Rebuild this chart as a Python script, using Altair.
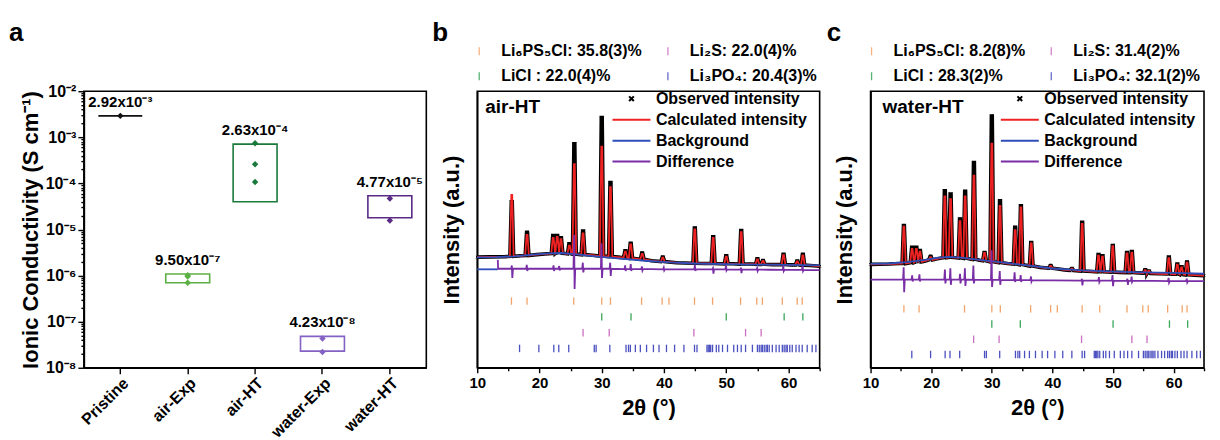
import altair as alt
import pandas as pd

FONT = "Liberation Sans"

# ---------------- panel a : ionic conductivity ----------------
GROUPS = ["Pristine", "air-Exp", "air-HT", "water-Exp", "water-HT"]
BOX_LOW = [2.92e-3, 7.0e-7, 4.0e-5, 2.3e-8, 1.8e-5]
BOX_HIGH = [2.92e-3, 1.08e-6, 7.1e-4, 4.8e-8, 5.4e-5]
MEAN_TEXT = ["2.92x10⁻³", "9.50x10⁻⁷", "2.63x10⁻⁴", "4.23x10⁻⁸", "4.77x10⁻⁵"]
PT_GROUP = ["Pristine", "air-Exp", "air-Exp", "air-Exp", "air-HT", "air-HT", "air-HT",
            "water-Exp", "water-Exp", "water-HT", "water-HT"]
PT_VALUE = [2.92e-3, 1.02e-6, 9.6e-7, 7.0e-7, 7.4e-4, 2.6e-4, 1.07e-4,
            4.3e-8, 2.2e-8, 4.7e-5, 1.56e-5]
GROUP_COLORS = ["#111111", "#5cb043", "#1a7a3c", "#8462c4", "#5a2a84"]

# ---------------- panels b / c : Rietveld refinement ----------------
SERIES = ["Observed intensity", "Calculated intensity", "Background", "Difference"]
SERIES_COLORS = ["#000000", "#ee2222", "#2f4fb8", "#7a2ea6"]
SERIES_SHAPES = ["M-0.25,-0.25L0.25,0.25M-0.25,0.25L0.25,-0.25", "M-2,0L2,0", "M-2,0L2,0", "M-2,0L2,0"]

PHASES = ["Li6PS5Cl", "LiCl", "Li2S", "Li3PO4"]          # row order of the tick rows
PHASE_COLORS = ["#f4a46a", "#3aa65a", "#cc6fbf", "#4b50c0"]
B_PHASE_LABELS = ["Li₆PS₅Cl: 35.8(3)%", "LiCl : 22.0(4)%", "Li₂S: 22.0(4)%", "Li₃PO₄: 20.4(3)%"]
C_PHASE_LABELS = ["Li₆PS₅Cl: 8.2(8)%", "LiCl : 28.3(2)%", "Li₂S: 31.4(2)%", "Li₃PO₄: 32.1(2)%"]

POS_LI6PS5CL = [15.5, 18.0, 25.5, 30.0, 31.4, 36.4, 39.7, 40.8, 44.9, 47.8, 52.3, 54.9, 55.8,
                59.0, 61.4, 62.2]
POS_LICL = [30.0, 34.7, 50.0, 59.3, 62.3]
POS_LI2S = [27.0, 31.2, 44.8, 53.1, 55.6]
POS_LI3PO4 = [16.8, 19.9, 22.3, 23.1, 24.7, 28.8, 29.1, 31.3, 33.9, 34.3, 34.6, 35.4, 36.2,
              37.2, 38.3, 39.2, 40.4, 41.7, 43.2, 44.9, 45.3, 46.9, 47.1, 47.3, 47.5, 47.8,
              48.4, 48.8, 49.4, 50.2, 51.2, 51.8, 52.4, 53.1, 54.2, 55.0, 55.3, 55.6, 55.8,
              56.1, 56.4, 56.6, 56.9, 57.4, 58.0, 58.5, 59.0, 59.3, 59.6, 59.8, 60.2, 60.6,
              61.2, 61.7, 62.2, 63.0, 63.8, 64.4]
PHASE_POS = [POS_LI6PS5CL, POS_LICL, POS_LI2S, POS_LI3PO4]

# air-HT (b)
B_PK_POS = [15.55, 18.0, 22.2, 22.85, 23.45, 24.8, 25.6, 27.0, 30.0, 31.4, 33.8, 34.65, 36.5,
            39.8, 44.95, 47.9, 50.0, 52.4, 55.0, 55.9, 59.2, 61.4, 62.3]
B_PK_BASE = [40.3, 40.6, 41.3, 41.4, 41.4, 41.2, 41.1, 40.9, 40.4, 40.2, 39.8, 39.6, 39.2,
             38.4, 37.8, 37.7, 37.6, 37.5, 37.4, 37.4, 37.3, 37.2, 37.1]
B_PK_OBS = [60.0, 49.0, 47.8, 47.8, 47.0, 44.8, 81.0, 49.4, 90.5, 67.0, 42.3, 45.0, 41.5,
            40.0, 50.5, 47.4, 40.5, 49.6, 39.4, 38.8, 41.0, 38.6, 41.0]
B_PK_CALC = [62.5, 48.0, 47.0, 47.3, 46.5, 44.2, 73.6, 48.6, 80.0, 65.3, 42.0, 44.6, 41.2,
             39.8, 50.0, 47.0, 40.2, 49.0, 39.2, 38.6, 40.7, 38.5, 40.6]
B_BASE_X = [10, 12, 14.5, 17, 19.5, 21.3, 24.1, 26.3, 28.5, 32.6, 38, 42, 46.5, 51, 54, 57.5,
            60.5, 63.5, 65]
B_BASE_Y = [40.0, 40.1, 40.2, 40.5, 40.9, 41.2, 41.3, 41.0, 40.7, 40.0, 38.7, 38.0, 37.7,
            37.6, 37.5, 37.3, 37.2, 37.0, 36.7]
B_BG_X = [10, 13, 16, 19, 21.5, 23.5, 26, 29, 33, 37, 41, 45, 50, 55, 60, 65]
B_BG_Y = [39.9, 40.0, 40.3, 40.9, 41.4, 41.5, 41.0, 40.3, 39.5, 38.7, 38.1, 37.7, 37.5,
          37.3, 37.2, 37.0]
B_BGL_X = [10.0, 13.3]
B_BGL_Y = [35.6, 35.6]
B_D_POS = [15.6, 18.0, 22.3, 23.2, 25.6, 27.0, 30.0, 31.4, 33.8, 34.7, 36.5, 40.0, 45.0,
           47.9, 50.0, 52.4, 55.0, 59.2, 62.3]
B_D_BASE = [35.8, 35.8, 35.8, 35.8, 35.8, 35.8, 35.8, 35.8, 35.7, 35.7, 35.7, 35.6, 35.6,
            35.6, 35.6, 35.5, 35.5, 35.4, 35.4]
B_D_UP = [37.0, 37.2, 37.0, 36.8, 48.0, 38.0, 45.0, 38.0, 37.0, 37.5, 36.6, 36.2, 37.2,
          36.0, 37.0, 36.2, 36.0, 36.8, 36.8]
B_D_DOWN = [32.5, 35.0, 35.0, 35.2, 28.5, 34.5, 32.5, 33.2, 35.0, 35.0, 35.2, 35.2, 35.0,
            34.0, 35.2, 34.2, 35.0, 35.0, 35.0]
B_D_AX = [13.3, 13.36, 38.0, 57.0, 65.0]
B_D_AY = [39.0, 35.8, 35.65, 35.45, 35.3]

# water-HT (c)
C_PK_POS = [15.5, 16.85, 17.55, 18.15, 19.9, 22.25, 23.2, 24.75, 25.6, 27.05, 28.8, 30.0,
            31.35, 33.85, 34.8, 36.5, 39.7, 43.2, 44.9, 47.6, 48.25, 49.95, 52.3, 53.1, 55.3,
            55.9, 59.2, 60.6, 61.3, 62.2]
C_PK_BASE = [37.7, 38.0, 38.1, 38.3, 39.0, 39.8, 39.9, 39.7, 39.6, 39.2, 38.7, 38.3, 38.0,
             37.5, 37.3, 36.8, 36.0, 35.2, 35.0, 34.7, 34.7, 34.6, 34.4, 34.4, 34.2, 34.1,
             33.9, 33.8, 33.7, 33.6]
C_PK_OBS = [51.4, 43.6, 43.6, 42.4, 40.3, 64.0, 62.8, 53.8, 63.8, 74.2, 41.7, 91.0, 60.4,
            50.8, 58.6, 45.3, 37.0, 35.9, 52.6, 40.9, 40.5, 44.2, 41.7, 42.0, 35.4, 35.0,
            40.0, 37.5, 36.5, 38.2]
C_PK_CALC = [51.0, 43.0, 43.0, 42.0, 40.0, 62.0, 61.0, 53.0, 62.0, 69.5, 41.5, 81.0, 58.5,
             49.8, 58.0, 45.0, 36.8, 35.8, 52.0, 40.5, 40.2, 44.0, 41.4, 41.6, 35.3, 35.0,
             39.6, 37.3, 36.3, 38.0]
C_BASE_X = [10, 13, 14.8, 19.2, 21, 24.2, 26.2, 28, 29.4, 32.6, 38, 42, 46.5, 51, 54.3, 57.5,
            60, 63.5, 65]
C_BASE_Y = [37.4, 37.5, 37.7, 38.7, 39.4, 39.8, 39.4, 38.9, 38.5, 37.7, 36.3, 35.4, 34.8,
            34.5, 34.3, 34.0, 33.8, 33.5, 33.3]
C_BG_X = [10, 13, 16, 19, 21, 22.8, 25, 28, 32, 36, 40, 45, 50, 55, 60, 65]
C_BG_Y = [37.6, 37.7, 38.2, 39.0, 39.7, 40.1, 39.8, 39.0, 38.0, 37.0, 35.9, 35.2, 34.8,
          34.5, 34.3, 34.0]
C_BGL_X = []
C_BGL_Y = []
C_D_POS = [15.5, 16.9, 18.1, 22.3, 23.2, 24.8, 25.6, 27.0, 30.0, 31.35, 33.8, 34.8, 36.5,
           44.9, 47.7, 49.95, 52.4, 53.1, 59.2, 62.2]
C_D_BASE = [31.9, 31.9, 31.9, 31.9, 31.9, 31.9, 31.9, 31.8, 31.8, 31.8, 31.7, 31.7, 31.7,
            31.5, 31.5, 31.5, 31.4, 31.4, 31.3, 31.3]
C_D_UP = [36.3, 33.4, 33.8, 35.5, 36.0, 34.0, 36.0, 37.0, 42.5, 35.0, 34.5, 33.5, 33.0,
          32.2, 32.8, 33.5, 32.2, 33.0, 32.5, 32.2]
C_D_DOWN = [27.3, 31.2, 31.2, 30.5, 30.0, 30.5, 29.6, 30.5, 29.2, 30.0, 31.0, 31.0, 31.2,
            29.8, 31.0, 29.5, 30.0, 31.0, 30.8, 30.9]
C_D_AX = [10.0, 20.0, 40.0, 57.0, 65.0]
C_D_AY = [31.9, 31.9, 31.6, 31.4, 31.3]


def peak_profile(pos, base, top, ax, ay, half=0.3, top_half=0.07):
    pts = []
    for p, b, t in zip(pos, base, top):
        pts += [(p - half, b), (p - top_half, t), (p + top_half, t), (p + half, b)]
    for x, y in zip(ax, ay):
        if all(abs(x - p) > half for p in pos):
            pts.append((x, y))
    pts.sort()
    return pts


def diff_profile(pos, base, up, down, ax, ay, half=0.14, inner=0.04):
    pts = []
    for p, b, u, d in zip(pos, base, up, down):
        pts += [(p - half, b), (p - inner, u), (p + inner, d), (p + half, b)]
    for x, y in zip(ax, ay):
        if all(abs(x - p) > half for p in pos):
            pts.append((x, y))
    pts.sort()
    return pts


def text_at(txt, x, y, size, align="left", baseline="alphabetic"):
    return alt.Chart(pd.DataFrame({"t": [txt]})).mark_text(
        align=align, baseline=baseline, fontSize=size, fontWeight="bold", color="black").encode(
        x=alt.value(x), y=alt.value(y), text="t:N")


# ---------------- build panel a ----------------
df_box = pd.DataFrame({"group": GROUPS, "low": BOX_LOW, "high": BOX_HIGH, "label": MEAN_TEXT})
df_pt = pd.DataFrame({"group": PT_GROUP, "value": PT_VALUE})

all_ticks_a = [k * 10.0 ** d for d in range(-8, -2) for k in range(1, 10)] + [1e-2]
IS_DECADE = "abs(log(datum.value)/LN10 - round(log(datum.value)/LN10)) < 0.001"
ya_scale = alt.Scale(type="log", domain=[1e-8, 1e-2], nice=False)
xa = alt.X("group:N", sort=GROUPS,
           scale=alt.Scale(domain=GROUPS, paddingInner=0.348, paddingOuter=0.215),
           axis=alt.Axis(title=None, labelAngle=-45, labelAlign="right", labelBaseline="top",
                         labelFontSize=16, tickSize=6, labelPadding=1, bandPosition=0.5))
color_a = alt.Color("group:N", scale=alt.Scale(domain=GROUPS, range=GROUP_COLORS), legend=None)
axis_a = alt.Axis(values=all_ticks_a,
                  tickSize={"condition": {"test": IS_DECADE, "value": 6}, "value": 3},
                  labelFontSize=16, labelPadding=2, labelFlush=False, labelOverlap=False,
                  labelExpr=IS_DECADE + " ? '10' + ['⁻⁸','⁻⁷','⁻⁶','⁻⁵','⁻⁴','⁻³','⁻²'][round(log(datum.value)/LN10) + 8] : ''",
                  title="Ionic Conductivity (S cm⁻¹)", titleFontSize=22, titlePadding=3)

boxes = alt.Chart(df_box).mark_bar(filled=False, strokeWidth=1.6).encode(
    x=xa, y=alt.Y("low:Q", scale=ya_scale, axis=axis_a), y2="high:Q", color=color_a)
points_a = alt.Chart(df_pt).mark_point(shape="diamond", filled=True, size=42, opacity=1).encode(
    x=xa, y=alt.Y("value:Q", scale=ya_scale, axis=axis_a), color=color_a)
texts_a = alt.Chart(df_box).mark_text(dy=-6, baseline="bottom", fontSize=15, fontWeight="bold",
                                      color="black").encode(
    x=xa, y=alt.Y("high:Q", scale=ya_scale, axis=axis_a), text="label:N")

panel_a = alt.layer(boxes, points_a, texts_a, text_at("a", -75, -50, 26)).properties(
    width=343, height=277)


# ---------------- build panels b / c ----------------
def xrd_panel(tag, sample, width, pk_pos, pk_base, pk_obs, pk_calc, base_x, base_y,
              bg_x, bg_y, bgl_x, bgl_y, d_pos, d_base, d_up, d_down, d_ax, d_ay,
              phase_labels, row0, rowstep, tag_x, sample_x, ser_x, key_cols):
    obs = pd.DataFrame(peak_profile(pk_pos, pk_base, pk_obs, base_x, base_y), columns=["x", "y"])
    obs["series"] = SERIES[0]
    calc = pd.DataFrame(peak_profile(pk_pos, pk_base, pk_calc, base_x, base_y), columns=["x", "y"])
    bg = pd.DataFrame({"x": list(bg_x) + list(bgl_x), "y": list(bg_y) + list(bgl_y),
                       "seg": ["main"] * len(bg_x) + ["left"] * len(bgl_x)})
    diff = pd.DataFrame(diff_profile(d_pos, d_base, d_up, d_down, d_ax, d_ay), columns=["x", "y"])

    rows = []
    for k, (ph, lab) in enumerate(zip(PHASES, phase_labels)):
        yc = row0 - k * rowstep
        for p in PHASE_POS[k]:
            rows.append({"x": p, "y1": yc - 1.35, "y2": yc + 1.35, "phase": lab})
    bragg = pd.DataFrame(rows)

    xs = alt.Scale(domain=[10, 65], nice=False, zero=False)
    ys = alt.Scale(domain=[0, 100], nice=False, zero=False)
    y_axis = alt.Axis(title="Intensity (a.u.)", ticks=False, labels=False, domain=True,
                      titleFontSize=22, titlePadding=14)
    x_axis = alt.Axis(values=[10, 15, 20, 25, 30, 35, 40, 45, 50, 55, 60, 65],
                      tickSize={"condition": {"test": "datum.value % 10 == 0", "value": 5},
                                "value": 3},
                      labelExpr="datum.value % 10 == 0 && datum.value < 65 ? datum.label : ''",
                      labelFontSize=15, labelFlush=False, labelOverlap=False, labelPadding=3,
                      format="d", title="2θ (°)", titleFontSize=22, titlePadding=7)
    x_enc = alt.X("x:Q", scale=xs, axis=x_axis)
    y_enc = alt.Y("y:Q", scale=ys, axis=y_axis)

    series_legend = alt.Legend(orient="none", legendX=ser_x, legendY=-3, title=None,
                               symbolSize=361, symbolStrokeWidth=2, labelOffset=14,
                               rowPadding=2, symbolOpacity=1, labelFontSize=16)

    layers = [
        alt.Chart(obs).mark_line(strokeWidth=3.6, color="black").encode(x=x_enc, y=y_enc),
        alt.Chart(obs).mark_point(filled=False, size=100, strokeWidth=1, opacity=1).encode(
            x=x_enc, y=y_enc,
            color=alt.Color("series:N", scale=alt.Scale(domain=SERIES, range=SERIES_COLORS),
                            legend=series_legend),
            shape=alt.Shape("series:N", scale=alt.Scale(domain=SERIES, range=SERIES_SHAPES),
                            legend=series_legend)),
        alt.Chart(calc).mark_line(strokeWidth=1.8, color=SERIES_COLORS[1]).encode(
            x=x_enc, y=y_enc),
        alt.Chart(bg).mark_line(strokeWidth=1.8, color=SERIES_COLORS[2]).encode(
            x=x_enc, y=y_enc, detail="seg:N"),
        alt.Chart(diff).mark_line(strokeWidth=1.8, color=SERIES_COLORS[3]).encode(
            x=x_enc, y=y_enc),
        alt.Chart(bragg).mark_rule(strokeWidth=1.3).encode(
            x=x_enc, y=alt.Y("y1:Q", scale=ys, axis=y_axis), y2="y2:Q",
            stroke=alt.Stroke("phase:N", scale=alt.Scale(domain=phase_labels, range=PHASE_COLORS),
                              legend=None)),
        text_at(sample, sample_x, 22, 19),
        text_at(tag, tag_x, -50, 26),
    ]
    # phase key above the frame: two columns (Li6PS5Cl / LiCl, then Li2S / Li3PO4)
    key_rows = [-40, -15]
    for k, (lab, colr) in enumerate(zip(phase_labels, PHASE_COLORS)):
        cx = key_cols[k // 2]
        ry = key_rows[k % 2]
        layers.append(alt.Chart(pd.DataFrame({"t": [lab]})).mark_rule(
            strokeWidth=1.3, color=colr, opacity=0.85).encode(
            x=alt.value(cx), y=alt.value(ry - 4), y2=alt.value(ry + 4)))
        layers.append(text_at(lab, cx + 22, ry, 16, baseline="middle"))

    return alt.layer(*layers).properties(width=width, height=277)


panel_b = xrd_panel("b", "air-HT", 343, B_PK_POS, B_PK_BASE, B_PK_OBS, B_PK_CALC, B_BASE_X,
                    B_BASE_Y, B_BG_X, B_BG_Y, B_BGL_X, B_BGL_Y, B_D_POS, B_D_BASE, B_D_UP,
                    B_D_DOWN, B_D_AX, B_D_AY, B_PHASE_LABELS, 24.1, 5.7, -45, 8, 144, [2, 191])
panel_c = xrd_panel("c", "water-HT", 334, C_PK_POS, C_PK_BASE, C_PK_OBS, C_PK_CALC, C_BASE_X,
                    C_BASE_Y, C_BG_X, C_BG_Y, C_BGL_X, C_BGL_Y, C_D_POS, C_D_BASE, C_D_UP,
                    C_D_DOWN, C_D_AX, C_D_AY, C_PHASE_LABELS, 21.3, 5.5, -44, 12, 139, [1, 181])

chart = alt.hconcat(panel_a, panel_b, panel_c, spacing=51, bounds="flush").resolve_scale(
    color="independent", stroke="independent", shape="independent",
    x="independent", y="independent").resolve_legend(
    color="independent", stroke="independent", shape="independent").properties(
    padding={"left": 0, "top": 11, "right": 0, "bottom": 0}, background="white"
).configure_view(stroke="black", strokeWidth=1.6).configure_axis(
    labelFont=FONT, titleFont=FONT, labelFontWeight="bold", titleFontWeight="bold",
    labelColor="black", titleColor="black", domainColor="black", tickColor="black",
    domainWidth=1.6, tickWidth=1.4, grid=False
).configure_legend(
    labelFont=FONT, labelFontWeight="bold", labelColor="black", padding=0, labelLimit=400
).configure_text(font=FONT)

chart.save("out.html", embed_options={"renderer": "svg", "actions": False})
